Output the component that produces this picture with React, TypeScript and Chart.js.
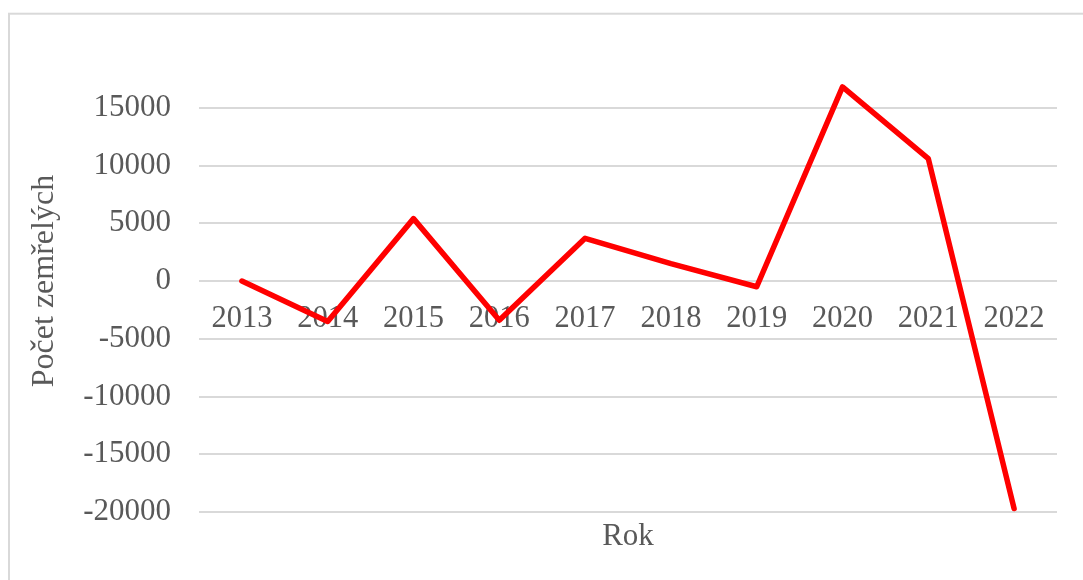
import React, { useEffect, useRef } from "react";
import { Chart, registerables } from "chart.js";

Chart.register(...registerables);

const years = ["2013", "2014", "2015", "2016", "2017", "2018", "2019", "2020", "2021", "2022"];
const deaths = [0, -3500, 5400, -3400, 3700, 1500, -500, 16800, 10600, -19700];
const yMin = -20000;
const yMax = 20000;
const yStep = 5000;
const yTitle = "Počet zemřelých";
const xTitle = "Rok";

const FONT = "'Liberation Serif', 'Times New Roman', serif";
const TEXT = "#595959";
const GRID = "#d9d9d9";

const decor = {
  id: "decor",
  beforeDraw(chart: any) {
    const ctx = chart.ctx;
    ctx.save();
    ctx.strokeStyle = GRID;
    ctx.lineWidth = 2;
    ctx.strokeRect(9, 13.7, 3000, 3000);
    ctx.restore();
  },
  afterDraw(chart: any) {
    const ctx = chart.ctx;
    const a = chart.chartArea;
    ctx.save();
    ctx.fillStyle = TEXT;
    ctx.font = `31px ${FONT}`;
    ctx.textAlign = "center";
    ctx.textBaseline = "middle";
    ctx.fillText(xTitle, (a.left + a.right) / 2, 537);
    ctx.restore();
  },
};

export default function App() {
  const ref = useRef<HTMLCanvasElement | null>(null);
  useEffect(() => {
    if (!ref.current) return;
    const chart = new Chart(ref.current, {
      type: "line",
      data: {
        labels: years,
        datasets: [
          {
            data: deaths,
            borderColor: "#ff0000",
            backgroundColor: "#ff0000",
            borderWidth: 5.5,
            pointRadius: 0,
            borderJoinStyle: "round",
            borderCapStyle: "round",
            tension: 0,
          },
        ],
      },
      options: {
        animation: false,
        responsive: false,
        layout: { padding: { left: 0, top: 50, right: 26, bottom: 68 } },
        plugins: { legend: { display: false }, tooltip: { enabled: false } },
        scales: {
          x: {
            type: "category",
            position: { y: 0 } as any,
            offset: true,
            grid: { display: false, drawTicks: false },
            border: { display: false },
            ticks: {
              color: TEXT,
              font: { family: FONT, size: 30.5 },
              padding: 20,
              maxRotation: 0,
              autoSkip: false,
            },
            afterFit: (s: any) => {
              s.height = 0;
            },
          },
          y: {
            min: yMin,
            max: yMax,
            grid: {
              color: (c: any) => (c.tick && c.tick.value === yMax ? "rgba(0,0,0,0)" : GRID),
              lineWidth: 2,
              drawTicks: false,
            },
            border: { display: false },
            ticks: {
              stepSize: yStep,
              color: TEXT,
              font: { family: FONT, size: 31 },
              padding: 28,
              callback: (v: any) => (v === yMax ? "" : String(v)),
            },
            title: {
              display: true,
              text: yTitle,
              color: TEXT,
              font: { family: FONT, size: 32 },
              padding: { top: 25, bottom: 0 },
            },
            afterFit: (s: any) => {
              s.width = 199;
            },
          },
        },
      },
      plugins: [decor],
    });
    return () => chart.destroy();
  }, []);
  return (
    <canvas
      ref={ref}
      width={1083}
      height={580}
      style={{ position: "fixed", left: 0, top: 0, width: 1083, height: 580 }}
    />
  );
}
